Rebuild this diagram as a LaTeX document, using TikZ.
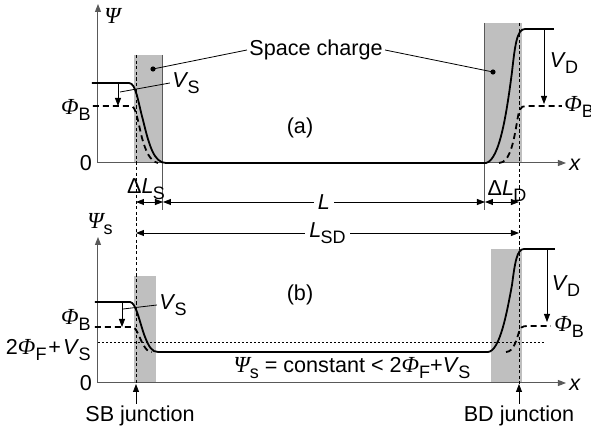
\documentclass[tikz,border=0pt]{standalone}
\usepackage{fontspec}
\setmainfont{Liberation Sans}
\newfontfamily\gk{Liberation Serif}
\usetikzlibrary{arrows.meta}
\newcommand{\sbs}[1]{\raisebox{-3.3pt}{\fontsize{9}{10}\selectfont #1}}
\newcommand{\vq}[2]{\textit{#1}\kern-0.3pt\sbs{#2}}
\newcommand{\gq}[2]{{\gk\itshape\fontsize{11.5}{13}\selectfont #1}\sbs{#2}}

\begin{document}
\begin{tikzpicture}[x=0.5pt,y=-0.5pt,
    tip/.tip={Triangle[length=4pt,width=3pt]},
    axis/.style={draw=black!65,line width=0.5pt,-tip},
    curve/.style={line width=0.9pt},
    dcurve/.style={line width=0.9pt,dash pattern=on 3pt off 2pt},
    guide/.style={line width=0.4pt,dash pattern=on 1.6pt off 1.2pt},
    edge/.style={draw=black!65,line width=0.5pt},
    dim/.style={line width=0.4pt,tip-tip},
    a/.style={line width=0.4pt,-tip},
    lead/.style={line width=0.4pt},
    lbl/.style={font=\fontsize{10.8}{13}\selectfont,inner sep=1pt},
    zone/.style={fill=black!25,draw=none}]
  \useasboundingbox (0,0) rectangle (591,433);
  % space charge zones
  \fill[zone] (134,55) rectangle (163,163);
  \fill[zone] (485,23) rectangle (522,163);
  \fill[zone] (134,276) rectangle (156,383);
  \fill[zone] (491,249) rectangle (522,383);
  % (a) axes
  \coordinate (oa) at (98,163);
  \coordinate (ya) at (98,4);
  \coordinate (xa) at (566,163);
  \draw[axis] (oa) -- (ya);
  \draw[axis] (oa) -- (xa);
  \node[lbl,anchor=west] (psia) at (102,16) {{\gk\itshape\fontsize{11.5}{13}\selectfont Ψ}};
  \node[lbl] (zeroa) at (86,163) {0};
  \node[lbl] (xla) at (575,165) {\textit{x}};
  % (b) axes
  \coordinate (ob) at (98,383);
  \coordinate (yb) at (98,237);
  \coordinate (xb) at (566,383);
  \draw[axis] (ob) -- (yb);
  \draw[axis] (ob) -- (xb);
  \node[lbl] (psib) at (100,224) {\gq{Ψ}{s}};
  \node[lbl] (zerob) at (86,383) {0};
  \node[lbl] (xlb) at (575,385) {\textit{x}};
  % junction lines and zone edges
  \draw[guide] (136,55) -- (136,384);
  \draw[guide] (519,23) -- (519,384);
  \draw[edge] (163,55) -- (163,210);
  \draw[edge] (485,23) -- (485,210);
  % (a) potentials
  \draw[curve] (92,83) -- (129,83) .. controls (136,83) and (138,102) .. (143,120)
    .. controls (149,145) and (154,163) .. (166,163) -- (486,163)
    .. controls (500,160) and (507,110) .. (512,72)
    .. controls (515,45) and (517,29) .. (525,29) -- (554,29);
  \draw[dcurve] (93,106) -- (131,106) .. controls (136,106) and (138,122) .. (142,138)
    .. controls (146,152) and (150,161) .. (158,163);
  \draw[dcurve] (499,163) .. controls (510,163) and (514,140) .. (517,122)
    .. controls (519,110) and (520,106) .. (526,106) -- (562,106);
  % (b) potentials
  \draw[curve] (95,302) -- (130,302) .. controls (136,302) and (140,324) .. (145,337)
    .. controls (149,347) and (152,352) .. (158,352) -- (488,352)
    .. controls (500,351) and (507,312) .. (512,285)
    .. controls (515,262) and (517,249) .. (524,249) -- (555,249);
  \draw[dcurve] (95,327) -- (132,327) .. controls (137,327) and (140,340) .. (144,346)
    .. controls (146,349) and (148,352) .. (152,352);
  \draw[dcurve] (506,352) .. controls (514,352) and (517,338) .. (519,332)
    .. controls (520,328) and (522,326) .. (527,326) -- (551,326);
  \draw[guide,dash pattern=on 0.8pt off 1.2pt] (98,342) -- (545,342);
  % space charge label
  \node[lbl] (sc) at (316,50) {Space charge};
  \coordinate (scl) at (153,69);
  \coordinate (scr) at (493,72);
  \fill (scl) circle (2.6);
  \fill (scr) circle (2.6);
  \draw[lead] (sc.west) -- (scl);
  \draw[lead] (sc.east) -- (scr);
  % (a) labels
  \node[lbl] (pa) at (300,128) {(a)};
  \coordinate (vsa1) at (118,83);
  \coordinate (vsa2) at (118,106);
  \draw[a] (vsa1) -- (vsa2);
  \node[lbl] (vsa) at (186,83) {\vq{V}{S}};
  \coordinate (vsam) at (120,92);
  \draw[lead] (vsam) -- (vsa.west);
  \node[lbl,anchor=east] (phba) at (93,110) {\gq{Φ}{B}};
  \coordinate (vda1) at (544,30);
  \coordinate (vda2) at (544,104);
  \draw[a] (vda1) -- (vda2);
  \node[lbl] (vda) at (564,63) {\vq{V}{D}};
  \node[lbl,anchor=west] (phbra) at (562,107) {\gq{Φ}{B}};
  % dimensions
  \coordinate (ds) at (136,202);
  \coordinate (dm1) at (163,202);
  \coordinate (dm2) at (485,202);
  \coordinate (dd) at (519,202);
  \draw[dim] (ds) -- (dm1);
  \draw[dim] (dm1) -- node[lbl,fill=white,inner sep=2pt] (ll) {\textit{L}} (dm2);
  \draw[dim] (dm2) -- (dd);
  \node[lbl] (dls) at (146,189) {Δ\vq{L}{S}};
  \node[lbl] (dld) at (507,191) {Δ\vq{L}{D}};
  \coordinate (sd1) at (136,233);
  \coordinate (sd2) at (519,233);
  \draw[dim] (sd1) -- node[lbl,fill=white,inner sep=2pt,pos=0.5] (lsd) {\vq{L}{SD}} (sd2);
  % (b) labels
  \node[lbl] (pb) at (300,295) {(b)};
  \coordinate (vsb1) at (122,302);
  \coordinate (vsb2) at (122,327);
  \draw[a] (vsb1) -- (vsb2);
  \node[lbl] (vsb) at (173,305) {\vq{V}{S}};
  \coordinate (vsbm) at (123,309);
  \draw[lead] (vsbm) -- (vsb.west);
  \node[lbl,anchor=east] (phbb) at (93,320) {\gq{Φ}{B}};
  \node[lbl,anchor=east] (fermi) at (93,350) {2\gq{Φ}{F}\kern1pt+\kern1pt\vq{V}{S}};
  \coordinate (vdb1) at (547,250);
  \coordinate (vdb2) at (547,322);
  \draw[a] (vdb1) -- (vdb2);
  \node[lbl] (vdb) at (566,286) {\vq{V}{D}};
  \node[lbl,anchor=west] (phbrb) at (552,327) {\gq{Φ}{B}};
  \node[lbl] (cst) at (352,368) {\gq{Ψ}{s} = constant < 2\gq{Φ}{F}+\vq{V}{S}};
  % junctions
  \node[lbl] (sbj) at (140,416) {SB junction};
  \node[lbl] (bdj) at (519,416) {BD junction};
  \coordinate (sbt) at (136,384);
  \coordinate (bdt) at (519,384);
  \draw[a] (sbj.north -| sbt) -- (sbt);
  \draw[a] (bdj.north -| bdt) -- (bdt);
\end{tikzpicture}
\end{document}
